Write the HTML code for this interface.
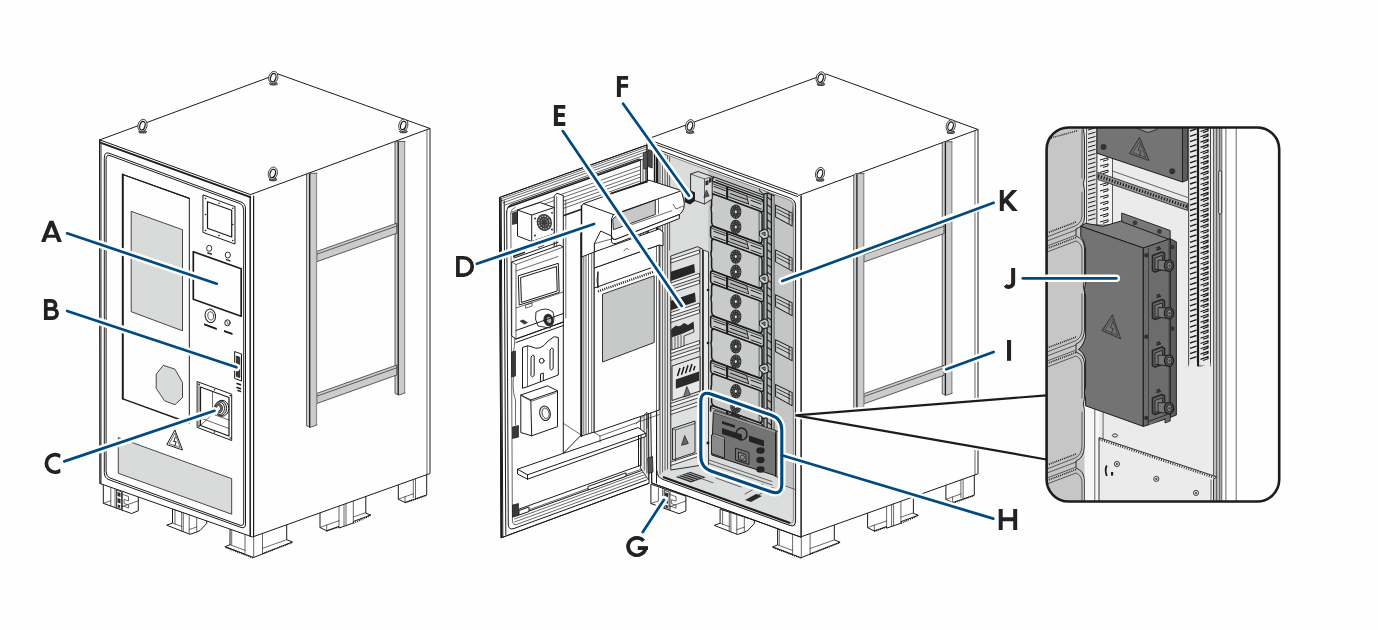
<!DOCTYPE html>
<html>
<head>
<meta charset="utf-8">
<title>Cabinet overview</title>
<style>
html,body{margin:0;padding:0;background:#fefefe;}
body{width:1378px;height:630px;overflow:hidden;font-family:"Liberation Sans",sans-serif;}
svg{display:block;position:absolute;left:0;top:0;}
.l{fill:none;stroke:#1c1c1c;stroke-width:1;stroke-linejoin:round;stroke-linecap:round;}
.t{fill:none;stroke:#2a2a2a;stroke-width:.7;stroke-linejoin:round;stroke-linecap:round;}
.m{fill:none;stroke:#1c1c1c;stroke-width:1.5;stroke-linejoin:round;stroke-linecap:round;}
.k{fill:none;stroke:#1c1c1c;stroke-width:2;stroke-linejoin:round;stroke-linecap:round;}
.w{fill:#fefefe;stroke:#1c1c1c;stroke-width:1;stroke-linejoin:round;}
.g1{fill:#d9dbdb;stroke:#1c1c1c;stroke-width:.8;stroke-linejoin:round;}
.g2{fill:#c6c7c8;stroke:#1c1c1c;stroke-width:.8;stroke-linejoin:round;}
.halo{fill:none;stroke:#fefefe;stroke-width:7.6;stroke-linecap:round;stroke-linejoin:round;}
.b{fill:none;stroke:#004a80;stroke-width:2.7;stroke-linecap:round;stroke-linejoin:round;}
.lab{font-family:"Liberation Sans",sans-serif;font-weight:bold;font-size:29px;fill:#1c1c1c;}
</style>
</head>
<body>
<svg width="1378" height="630" viewBox="0 0 1378 630">
<defs>
<g id="eye">
<ellipse cx="0.2" cy="6.3" rx="4" ry="1.3" fill="#777" stroke="#1c1c1c" stroke-width=".8"/>
<ellipse cx="0" cy="0" rx="4.5" ry="6.3" fill="#f4f4f4" stroke="#2a2a2a" stroke-width=".8" transform="rotate(14)"/>
<ellipse cx="0" cy="0.2" rx="2.6" ry="4.3" fill="#fefefe" stroke="#1c1c1c" stroke-width="1.2" transform="rotate(17)"/>
</g>
<clipPath id="clipC"><rect x="40" y="450" width="20.4" height="28"/></clipPath>
<clipPath id="clipG"><rect x="620" y="530" width="27.4" height="30"/></clipPath>
</defs>

<!-- ================= LEFT CABINET ================= -->
<g id="cabL">
<!-- feet -->
<g id="feetL">
<g class="w">
<path d="M103.3,484 L103.3,503.3 L131.5,513.5 L138.3,510.8 L138.3,496 Z"/>
<path d="M172.5,509 L172.5,523 L166.7,525.2 L190,534.3 L196.7,532 L200,530.5 L206.7,523.5 L206.7,520 Z"/>
<path d="M230,529 L230,544.7 L225,546.7 L253.5,557.5 L292.5,542 L286.7,539.7 L286.7,522 Z"/>
<path d="M320,512 L320,527.5 L326.7,530.8 L339,526.5 L339,528 L353.3,523 L353.3,521.5 L370.8,515 L365.8,513.2 L365.8,494 Z"/>
<path d="M398.3,484 L398.3,499.2 L405,502.5 L426.7,495 L426.7,474 Z"/>
</g>
<g class="t">
<path d="M110.8,487.5 V505.8 M115,489 V507.5 M116.7,489.5 V508 M122.5,491.5 V510.3 M122.5,506.5 L138.3,500.8 M103.3,503.3 L110.8,500.8"/>
<path d="M175,510 V524 M181.7,512.5 V530.8 M183.3,513 V531.5 M189.2,515 V534 M196.7,518 V532 M172.5,523 L181.7,526.5 M189.2,529.5 L196.7,527"/>
<path d="M231.7,529.5 V545 M245,534 V553.3 M253.7,537 V557.5 M262.5,534 V553.5 M230,544.7 L245,550.3 M262.5,548.3 L286.7,539.7 M225,546.7 L245,554.2"/>
<path d="M339,506 V526.5 M344,504.2 V526.3 M346,503.5 V525.6 M353.3,501 V521.5 M320,527.5 L326.7,525 L339,520.7 M353.3,517 L365.8,512.6 M326.7,525 L326.7,530.8"/>
<path d="M413.3,479 V497.5 M415.5,478.3 V498.5 M398.3,499.2 L405,496.7 L413.3,493.8 M405,496.7 L405,502.5"/>
</g>
<path d="M226,547.5 L253.5,558 M262.5,553.7 L292,542.5 M326.7,531 L339,526.7 M353.3,523.2 L370,515.7 M405.5,502.6 L426.5,495.3" stroke="#1c1c1c" stroke-width="1.6" stroke-dasharray="1 1" fill="none"/>
<path d="M116.7,490 L121.5,491.8 L121.5,509.5 L116.7,507.8 Z" fill="#fefefe" stroke="#1c1c1c" stroke-width=".8"/>
<path d="M117.5,492 L120.5,493 L120.5,497 L117.5,496 Z M117.5,498 L120.5,499 L120.5,503.5 L117.5,502.5 Z M117.8,504.5 L120.2,505.3 L120.2,508 L117.8,507.2 Z" fill="#2a2a2a"/>
<path class="t" d="M121.5,494 L128.5,496.5 L128.5,501 L124,499.5 L124,503.5 L128.5,505 L128.5,508 L121.5,505.5"/>
</g>
<!-- body faces -->
<path class="w" d="M99.5,140 L278,74 L430,128.5 L430,473.5 L252.5,537 L100,483.5 Z"/>
<path class="l" d="M250.5,194.6 L430,128.5"/>
<path class="l" d="M99.5,139.8 L250.5,194.6"/>
<path class="k" d="M100.3,142.6 L250.3,197.2" style="stroke-width:1.8"/>
<path class="l" d="M100,140 L100,483.5"/><path class="t" d="M101.4,142 L101.4,484" style="stroke:#555"/>
<path class="m" d="M250.2,196.5 L250.2,536.2"/><path class="l" d="M253.6,196 L253.6,536.6" style="stroke-width:1.2"/>
<path class="t" d="M427,130 L427,474.5"/>

<!-- right face bars -->
<g id="barsL">
<path d="M395,143 L396.5,141.5 L405,141.5 L405,393 L399,395 L395,393.5 Z" fill="#cbcbcb"/>
<path d="M404.6,141.5 L404.6,393" stroke="#8e8e8e" stroke-width="1.2" fill="none"/>
<path class="t" d="M395,143 L395,393.5 L399,395 L405,393 M395,143 L396.5,141.5 L405,141.5"/>
<path class="l" d="M398.2,142.5 L398.2,394.6" style="stroke-width:1.3"/>
<path d="M316.8,251.4 L396.8,223.2 L396.8,233.3 L316.8,261.7 Z" fill="#cbcbcb" stroke="#1c1c1c" stroke-width=".7"/>
<path class="t" d="M316.8,254.2 L396.8,226"/>
<path d="M316.8,393.4 L396.8,365 L396.8,375 L316.8,403.5 Z" fill="#cbcbcb" stroke="#1c1c1c" stroke-width=".7"/>
<path class="t" d="M316.8,396.2 L396.8,367.8"/>
<path d="M306.5,175 L308,173.3 L317,173.3 L317,425 L310.5,427.3 L306.5,425.8 Z" fill="#cbcbcb"/>
<path d="M316.5,173.5 L316.5,425" stroke="#8e8e8e" stroke-width="1.2" fill="none"/>
<path class="t" d="M306.5,175 L306.5,425.8 L310.5,427.3 L317,425 M306.5,175 L308,173.3 L317,173.3"/>
<path class="l" d="M309.7,174.3 L309.7,427" style="stroke-width:1.3"/>
</g>
<!-- front face details -->
<g id="frontL">
<path class="l" d="M104.3,158 Q104.3,151.5 109,153.2 L241,202 Q245.5,203.6 245.5,209 L245.5,524 Q245.5,529 241,527.4 L109,479.7 Q104.3,478 104.3,473 Z"/>
<path class="l" d="M106.1,159 Q106.1,154.2 110,155.6 L240,203.6 Q243.7,205 243.7,210 L243.7,522 Q243.7,526.5 240,525.2 L110,478 Q106.1,476.6 106.1,472 Z"/>
<!-- window frame -->
<path class="l" d="M122.8,174.5 L189.3,198.3 L189.3,423"/>
<path class="k" d="M122.8,174.5 L122.8,398.8"/><path class="l" d="M122.8,398.8 L189.3,423" style="stroke-width:1.4"/>
<path class="l" d="M122.8,174.5 L189.3,198.3" style="stroke-width:1.3"/>
<path class="g1" d="M131.2,211.3 L182.5,229.7 L182.5,330.8 L131.2,311.7 Z"/>
<path class="g1" d="M163.3,365.3 L175,369.2 L182.5,382.5 L182.5,397.5 L175,404.7 L164.5,400.8 L156.2,388.3 L156.2,374.2 Z"/>
<path class="g1" d="M118.3,437.5 L231.7,478.7 L231.7,514.2 L118.3,473.3 Z"/>
<!-- flange -->
<path class="l" d="M203.3,195 L235,206.7 L235,244 L203.3,232.5 Z"/>
<path class="m" d="M207.5,201.7 L231.7,210.3 L231.7,237 L207.5,228.3 Z" style="stroke-width:1.2"/>
<g fill="#1c1c1c"><circle cx="205.5" cy="198.5" r=".8"/><circle cx="219" cy="203.2" r=".8"/><circle cx="232.8" cy="208.3" r=".8"/><circle cx="205.5" cy="214.5" r=".8"/><circle cx="232.8" cy="224.5" r=".8"/><circle cx="205.5" cy="230.5" r=".8"/><circle cx="219" cy="235.6" r=".8"/><circle cx="232.8" cy="240.5" r=".8"/></g>
<!-- key switches -->
<g id="ksw"><ellipse cx="209.2" cy="248.3" rx="2.6" ry="3" fill="#fefefe" stroke="#1c1c1c" stroke-width=".9"/><path d="M207.3,252 L211.8,253.6 L211.8,255 L207.3,253.4 Z" fill="#1c1c1c"/></g>
<use href="#ksw" x="18.6" y="6.7"/>
<!-- display -->
<path class="k" d="M193.3,251.7 L241.2,268.7 L241.2,316.2 L193.3,299.2 Z" style="stroke-width:1.7"/>
<!-- buttons -->
<ellipse cx="210.3" cy="315.8" rx="5.2" ry="6.8" class="l" transform="rotate(-12 210.3 315.8)"/>
<ellipse cx="210.8" cy="315.8" rx="3" ry="4.2" class="t" transform="rotate(-12 210.8 315.8)"/>
<path d="M204,323.3 L216.8,328 L216.8,330 L204,325.3 Z" fill="#1c1c1c"/>
<ellipse cx="227.5" cy="322.8" rx="2.7" ry="3" class="l"/>
<path class="t" d="M226.5,320.5 L228.5,325.2"/>
<path d="M224,330 L232.5,333 L232.5,335 L224,332 Z" fill="#1c1c1c"/>
<!-- handle -->
<path class="l" d="M235,351.7 L241.5,354 L241.5,381 L235,378.6 Z"/>
<path d="M236.3,356 L239.8,357.3 L239.8,377.6 L236.3,376.3 Z" fill="#3a3a3a" stroke="#1c1c1c" stroke-width=".8"/>
<path class="m" d="M237,383.5 L240.5,384.8 M237,387.5 L240.5,388.8 M238,390.5 L240.5,391.4"/>
<!-- connector panel -->
<path class="l" d="M197.5,381.7 L231.7,394.2 L231.7,440.5 L197.5,427.5 Z"/>
<path class="m" d="M200.5,387 L229,397.5 L229,436 L200.5,425.5 Z" style="stroke-width:1.2"/>
<path class="t" d="M199,384 L199,426.5 M212.5,391.5 L212.5,414 M200.5,418 L229,428.5 M212.5,414 L229,420 M200.5,425.5 L212.5,414"/>
<g fill="#1c1c1c"><circle cx="199.2" cy="384.3" r=".8"/><circle cx="214.5" cy="389.8" r=".8"/><circle cx="230.3" cy="395.6" r=".8"/><circle cx="199.2" cy="426" r=".8"/><circle cx="214.5" cy="432" r=".8"/><circle cx="230.3" cy="438" r=".8"/></g>
<g id="conn">
<ellipse cx="222" cy="408.3" rx="6.8" ry="8" fill="#fefefe" stroke="#1c1c1c" stroke-width="1"/>
<ellipse cx="220.7" cy="408.3" rx="6" ry="7.3" fill="#d0d0d0" stroke="#1c1c1c" stroke-width=".9"/>
<ellipse cx="219.5" cy="408.3" rx="5" ry="6.3" fill="#fefefe" stroke="#1c1c1c" stroke-width=".9"/>
<ellipse cx="218.8" cy="408.3" rx="3.6" ry="4.8" fill="#777" stroke="#1c1c1c" stroke-width=".9"/>
<ellipse cx="218.5" cy="408.3" rx="2" ry="2.8" fill="#fefefe" stroke="#1c1c1c" stroke-width=".8"/>
</g>
<!-- warning triangle -->
<path class="l" d="M175,430.3 L182.5,450 L167.2,444.7 Z"/>
<path class="t" d="M175,433.5 L180.2,447.5 L169.5,443.8 Z"/>
<path class="m" d="M175.3,437 L173.8,441.5 L176.2,441.8 L174.8,446" style="stroke-width:1"/>
</g>
<!-- eyebolts -->
<use href="#eye" x="142.5" y="125.5"/><use href="#eye" x="273.3" y="77.5"/><use href="#eye" x="403.3" y="125.3"/><use href="#eye" x="272.8" y="173.3"/>
</g>

<!-- ================= MIDDLE CABINET ================= -->
<g id="cabM">
<!-- feet -->
<use href="#feetL" x="547.6" y="0.2"/>
<!-- body -->
<path class="w" d="M647,140.3 L651.7,137.5 L826,74 L978,129.5 L978,473.8 L800.5,537 L651.7,483 Z"/>
<path class="l" d="M798.5,195.5 L978,129.5"/>
<path class="t" d="M975,131 L975,475"/>
<!-- bars on right face -->
<use href="#barsL" x="547.2" y="0.3"/>
<use href="#eye" x="690" y="125.8"/><use href="#eye" x="820.7" y="78"/><use href="#eye" x="950.7" y="126"/><use href="#eye" x="820" y="173.6"/>
<!-- interior background -->
<path d="M656,150 L795.5,201 L795.5,526.5 L656,476.5 Z" fill="#dadcdc"/>
</g>

<!-- ===== middle cabinet interior ===== -->
<g id="midInt">
<g id="intM" transform="matrix(1,0.3665,0,1,655.6,142.2)">
<rect x="52.5" y="8" width="85" height="326" fill="#c4c6c6"/>
<rect x="1" y="8" width="51.5" height="326" fill="#dadcdc"/>
<path d="M58,13.3 L134,13.3 Q137,13.3 137,16.5 L137,30 L118.8,30 L118.8,18.5 L56,18.5 Z" fill="#bcbebe" stroke="#1c1c1c" stroke-width="1.2"/>
<path d="M60,15.8 L135,15.8 M119,21 L136,21 M119,24.5 L136,24.5" stroke="#1c1c1c" stroke-width=".9" fill="none"/>
<g transform="translate(55,18.3)"><path d="M2.5,0 L51,0 L53,2 L53,11 L51,12.5 L2.5,12.5 Q0,12.5 0,10 L0,2.5 Q0,0 2.5,0 Z" fill="#c5c7c7" stroke="#1c1c1c" stroke-width="1.5"/><path d="M0.5,2.3 L52,2.3" stroke="#1c1c1c" stroke-width=".7"/><path d="M17,2 L36,2 L38,9.5 L17,9.5 Z" fill="#b4b6b6" stroke="#1c1c1c" stroke-width="1"/><path d="M17,0 L17,12.5 M19.5,5.7 L36,5.7 M3,4.5 L15,4.5 M3,9.8 L15,9.8 M40,5 L51,5 M40,9.8 L51,9.8" stroke="#1c1c1c" stroke-width="1" fill="none"/><path d="M16.2,0 L16.2,12.5" stroke="#1c1c1c" stroke-width="1.5"/><path d="M4,12.5 L48,12.5 Q51.5,12.5 51.5,15.5 L51.5,41 Q51.5,44.5 48,44.5 L4.5,44.5 Q1,44.5 1,41 L1,32 Q-0.2,28 1,24 L1,16 Q1,12.5 4,12.5 Z" fill="#c9cbcb" stroke="#1c1c1c" stroke-width="1.5"/><path d="M48.5,13.5 L48.5,43.5" stroke="#1c1c1c" stroke-width=".6"/><g transform="translate(25.2,21.8) skewY(-20.1)"><ellipse rx="5.6" ry="7.2" fill="#2e2e2e"/><ellipse rx="4.1" ry="5.5" fill="none" stroke="#9a9c9c" stroke-width=".9" stroke-dasharray="1.3 1.5"/><ellipse rx="2.4" ry="3.3" fill="none" stroke="#8a8a8a" stroke-width=".8" stroke-dasharray="1 1.2"/><ellipse rx="1.1" ry="1.5" fill="#e0e0e0"/></g><g transform="translate(25.2,37.0) skewY(-20.1)"><ellipse rx="5.6" ry="7.2" fill="#2e2e2e"/><ellipse rx="4.1" ry="5.5" fill="none" stroke="#9a9c9c" stroke-width=".9" stroke-dasharray="1.3 1.5"/><ellipse rx="2.4" ry="3.3" fill="none" stroke="#8a8a8a" stroke-width=".8" stroke-dasharray="1 1.2"/><ellipse rx="1.1" ry="1.5" fill="#e0e0e0"/></g></g>
<g transform="translate(55,63.2)"><path d="M2.5,0 L51,0 L53,2 L53,11 L51,12.5 L2.5,12.5 Q0,12.5 0,10 L0,2.5 Q0,0 2.5,0 Z" fill="#c5c7c7" stroke="#1c1c1c" stroke-width="1.5"/><path d="M0.5,2.3 L52,2.3" stroke="#1c1c1c" stroke-width=".7"/><path d="M17,2 L36,2 L38,9.5 L17,9.5 Z" fill="#b4b6b6" stroke="#1c1c1c" stroke-width="1"/><path d="M17,0 L17,12.5 M19.5,5.7 L36,5.7 M3,4.5 L15,4.5 M3,9.8 L15,9.8 M40,5 L51,5 M40,9.8 L51,9.8" stroke="#1c1c1c" stroke-width="1" fill="none"/><path d="M16.2,0 L16.2,12.5" stroke="#1c1c1c" stroke-width="1.5"/><path d="M4,12.5 L48,12.5 Q51.5,12.5 51.5,15.5 L51.5,41 Q51.5,44.5 48,44.5 L4.5,44.5 Q1,44.5 1,41 L1,32 Q-0.2,28 1,24 L1,16 Q1,12.5 4,12.5 Z" fill="#c9cbcb" stroke="#1c1c1c" stroke-width="1.5"/><path d="M48.5,13.5 L48.5,43.5" stroke="#1c1c1c" stroke-width=".6"/><g transform="translate(25.2,21.8) skewY(-20.1)"><ellipse rx="5.6" ry="7.2" fill="#2e2e2e"/><ellipse rx="4.1" ry="5.5" fill="none" stroke="#9a9c9c" stroke-width=".9" stroke-dasharray="1.3 1.5"/><ellipse rx="2.4" ry="3.3" fill="none" stroke="#8a8a8a" stroke-width=".8" stroke-dasharray="1 1.2"/><ellipse rx="1.1" ry="1.5" fill="#e0e0e0"/></g><g transform="translate(25.2,37.0) skewY(-20.1)"><ellipse rx="5.6" ry="7.2" fill="#2e2e2e"/><ellipse rx="4.1" ry="5.5" fill="none" stroke="#9a9c9c" stroke-width=".9" stroke-dasharray="1.3 1.5"/><ellipse rx="2.4" ry="3.3" fill="none" stroke="#8a8a8a" stroke-width=".8" stroke-dasharray="1 1.2"/><ellipse rx="1.1" ry="1.5" fill="#e0e0e0"/></g></g>
<g transform="translate(55,108.1)"><path d="M2.5,0 L51,0 L53,2 L53,11 L51,12.5 L2.5,12.5 Q0,12.5 0,10 L0,2.5 Q0,0 2.5,0 Z" fill="#c5c7c7" stroke="#1c1c1c" stroke-width="1.5"/><path d="M0.5,2.3 L52,2.3" stroke="#1c1c1c" stroke-width=".7"/><path d="M17,2 L36,2 L38,9.5 L17,9.5 Z" fill="#b4b6b6" stroke="#1c1c1c" stroke-width="1"/><path d="M17,0 L17,12.5 M19.5,5.7 L36,5.7 M3,4.5 L15,4.5 M3,9.8 L15,9.8 M40,5 L51,5 M40,9.8 L51,9.8" stroke="#1c1c1c" stroke-width="1" fill="none"/><path d="M16.2,0 L16.2,12.5" stroke="#1c1c1c" stroke-width="1.5"/><path d="M4,12.5 L48,12.5 Q51.5,12.5 51.5,15.5 L51.5,41 Q51.5,44.5 48,44.5 L4.5,44.5 Q1,44.5 1,41 L1,32 Q-0.2,28 1,24 L1,16 Q1,12.5 4,12.5 Z" fill="#c9cbcb" stroke="#1c1c1c" stroke-width="1.5"/><path d="M48.5,13.5 L48.5,43.5" stroke="#1c1c1c" stroke-width=".6"/><g transform="translate(25.2,21.8) skewY(-20.1)"><ellipse rx="5.6" ry="7.2" fill="#2e2e2e"/><ellipse rx="4.1" ry="5.5" fill="none" stroke="#9a9c9c" stroke-width=".9" stroke-dasharray="1.3 1.5"/><ellipse rx="2.4" ry="3.3" fill="none" stroke="#8a8a8a" stroke-width=".8" stroke-dasharray="1 1.2"/><ellipse rx="1.1" ry="1.5" fill="#e0e0e0"/></g><g transform="translate(25.2,37.0) skewY(-20.1)"><ellipse rx="5.6" ry="7.2" fill="#2e2e2e"/><ellipse rx="4.1" ry="5.5" fill="none" stroke="#9a9c9c" stroke-width=".9" stroke-dasharray="1.3 1.5"/><ellipse rx="2.4" ry="3.3" fill="none" stroke="#8a8a8a" stroke-width=".8" stroke-dasharray="1 1.2"/><ellipse rx="1.1" ry="1.5" fill="#e0e0e0"/></g></g>
<g transform="translate(55,153.0)"><path d="M2.5,0 L51,0 L53,2 L53,11 L51,12.5 L2.5,12.5 Q0,12.5 0,10 L0,2.5 Q0,0 2.5,0 Z" fill="#c5c7c7" stroke="#1c1c1c" stroke-width="1.5"/><path d="M0.5,2.3 L52,2.3" stroke="#1c1c1c" stroke-width=".7"/><path d="M17,2 L36,2 L38,9.5 L17,9.5 Z" fill="#b4b6b6" stroke="#1c1c1c" stroke-width="1"/><path d="M17,0 L17,12.5 M19.5,5.7 L36,5.7 M3,4.5 L15,4.5 M3,9.8 L15,9.8 M40,5 L51,5 M40,9.8 L51,9.8" stroke="#1c1c1c" stroke-width="1" fill="none"/><path d="M16.2,0 L16.2,12.5" stroke="#1c1c1c" stroke-width="1.5"/><path d="M4,12.5 L48,12.5 Q51.5,12.5 51.5,15.5 L51.5,41 Q51.5,44.5 48,44.5 L4.5,44.5 Q1,44.5 1,41 L1,32 Q-0.2,28 1,24 L1,16 Q1,12.5 4,12.5 Z" fill="#c9cbcb" stroke="#1c1c1c" stroke-width="1.5"/><path d="M48.5,13.5 L48.5,43.5" stroke="#1c1c1c" stroke-width=".6"/><g transform="translate(25.2,21.8) skewY(-20.1)"><ellipse rx="5.6" ry="7.2" fill="#2e2e2e"/><ellipse rx="4.1" ry="5.5" fill="none" stroke="#9a9c9c" stroke-width=".9" stroke-dasharray="1.3 1.5"/><ellipse rx="2.4" ry="3.3" fill="none" stroke="#8a8a8a" stroke-width=".8" stroke-dasharray="1 1.2"/><ellipse rx="1.1" ry="1.5" fill="#e0e0e0"/></g><g transform="translate(25.2,37.0) skewY(-20.1)"><ellipse rx="5.6" ry="7.2" fill="#2e2e2e"/><ellipse rx="4.1" ry="5.5" fill="none" stroke="#9a9c9c" stroke-width=".9" stroke-dasharray="1.3 1.5"/><ellipse rx="2.4" ry="3.3" fill="none" stroke="#8a8a8a" stroke-width=".8" stroke-dasharray="1 1.2"/><ellipse rx="1.1" ry="1.5" fill="#e0e0e0"/></g></g>
<g transform="translate(55,197.9)"><path d="M2.5,0 L51,0 L53,2 L53,11 L51,12.5 L2.5,12.5 Q0,12.5 0,10 L0,2.5 Q0,0 2.5,0 Z" fill="#c5c7c7" stroke="#1c1c1c" stroke-width="1.5"/><path d="M0.5,2.3 L52,2.3" stroke="#1c1c1c" stroke-width=".7"/><path d="M17,2 L36,2 L38,9.5 L17,9.5 Z" fill="#b4b6b6" stroke="#1c1c1c" stroke-width="1"/><path d="M17,0 L17,12.5 M19.5,5.7 L36,5.7 M3,4.5 L15,4.5 M3,9.8 L15,9.8 M40,5 L51,5 M40,9.8 L51,9.8" stroke="#1c1c1c" stroke-width="1" fill="none"/><path d="M16.2,0 L16.2,12.5" stroke="#1c1c1c" stroke-width="1.5"/><path d="M4,12.5 L48,12.5 Q51.5,12.5 51.5,15.5 L51.5,41 Q51.5,44.5 48,44.5 L4.5,44.5 Q1,44.5 1,41 L1,32 Q-0.2,28 1,24 L1,16 Q1,12.5 4,12.5 Z" fill="#c9cbcb" stroke="#1c1c1c" stroke-width="1.5"/><path d="M48.5,13.5 L48.5,43.5" stroke="#1c1c1c" stroke-width=".6"/><g transform="translate(25.2,21.8) skewY(-20.1)"><ellipse rx="5.6" ry="7.2" fill="#2e2e2e"/><ellipse rx="4.1" ry="5.5" fill="none" stroke="#9a9c9c" stroke-width=".9" stroke-dasharray="1.3 1.5"/><ellipse rx="2.4" ry="3.3" fill="none" stroke="#8a8a8a" stroke-width=".8" stroke-dasharray="1 1.2"/><ellipse rx="1.1" ry="1.5" fill="#e0e0e0"/></g><g transform="translate(25.2,37.0) skewY(-20.1)"><ellipse rx="5.6" ry="7.2" fill="#2e2e2e"/><ellipse rx="4.1" ry="5.5" fill="none" stroke="#9a9c9c" stroke-width=".9" stroke-dasharray="1.3 1.5"/><ellipse rx="2.4" ry="3.3" fill="none" stroke="#8a8a8a" stroke-width=".8" stroke-dasharray="1 1.2"/><ellipse rx="1.1" ry="1.5" fill="#e0e0e0"/></g></g>
<g transform="translate(55,242.8)"><path d="M2.5,0 L51,0 L53,2 L53,11 L51,12.5 L2.5,12.5 Q0,12.5 0,10 L0,2.5 Q0,0 2.5,0 Z" fill="#c5c7c7" stroke="#1c1c1c" stroke-width="1.5"/><path d="M0.5,2.3 L52,2.3" stroke="#1c1c1c" stroke-width=".7"/><path d="M17,2 L36,2 L38,9.5 L17,9.5 Z" fill="#b4b6b6" stroke="#1c1c1c" stroke-width="1"/><path d="M17,0 L17,12.5 M19.5,5.7 L36,5.7 M3,4.5 L15,4.5 M3,9.8 L15,9.8 M40,5 L51,5 M40,9.8 L51,9.8" stroke="#1c1c1c" stroke-width="1" fill="none"/><path d="M16.2,0 L16.2,12.5" stroke="#1c1c1c" stroke-width="1.5"/><path d="M4,12.5 L48,12.5 Q51.5,12.5 51.5,15.5 L51.5,41 Q51.5,44.5 48,44.5 L4.5,44.5 Q1,44.5 1,41 L1,32 Q-0.2,28 1,24 L1,16 Q1,12.5 4,12.5 Z" fill="#c9cbcb" stroke="#1c1c1c" stroke-width="1.5"/><path d="M48.5,13.5 L48.5,43.5" stroke="#1c1c1c" stroke-width=".6"/><g transform="translate(25.2,21.8) skewY(-20.1)"><ellipse rx="5.6" ry="7.2" fill="#2e2e2e"/><ellipse rx="4.1" ry="5.5" fill="none" stroke="#9a9c9c" stroke-width=".9" stroke-dasharray="1.3 1.5"/><ellipse rx="2.4" ry="3.3" fill="none" stroke="#8a8a8a" stroke-width=".8" stroke-dasharray="1 1.2"/><ellipse rx="1.1" ry="1.5" fill="#e0e0e0"/></g><g transform="translate(25.2,37.0) skewY(-20.1)"><ellipse rx="5.6" ry="7.2" fill="#2e2e2e"/><ellipse rx="4.1" ry="5.5" fill="none" stroke="#9a9c9c" stroke-width=".9" stroke-dasharray="1.3 1.5"/><ellipse rx="2.4" ry="3.3" fill="none" stroke="#8a8a8a" stroke-width=".8" stroke-dasharray="1 1.2"/><ellipse rx="1.1" ry="1.5" fill="#e0e0e0"/></g></g>
<rect x="108.3" y="10" width="10.5" height="322" fill="#b4b6b6" stroke="#1c1c1c" stroke-width="1.2"/>
<path d="M111.5,10 L111.5,332 M115.8,10 L115.8,332" stroke="#1c1c1c" stroke-width="1.3" fill="none"/>
<path d="M111.5,14.0 L115.8,15.5 M111.5,21.5 L115.8,23.0 M111.5,29.0 L115.8,30.5 M111.5,36.5 L115.8,38.0 M111.5,44.0 L115.8,45.5 M111.5,51.5 L115.8,53.0 M111.5,59.0 L115.8,60.5 M111.5,66.5 L115.8,68.0 M111.5,74.0 L115.8,75.5 M111.5,81.5 L115.8,83.0 M111.5,89.0 L115.8,90.5 M111.5,96.5 L115.8,98.0 M111.5,104.0 L115.8,105.5 M111.5,111.5 L115.8,113.0 M111.5,119.0 L115.8,120.5 M111.5,126.5 L115.8,128.0 M111.5,134.0 L115.8,135.5 M111.5,141.5 L115.8,143.0 M111.5,149.0 L115.8,150.5 M111.5,156.5 L115.8,158.0 M111.5,164.0 L115.8,165.5 M111.5,171.5 L115.8,173.0 M111.5,179.0 L115.8,180.5 M111.5,186.5 L115.8,188.0 M111.5,194.0 L115.8,195.5 M111.5,201.5 L115.8,203.0 M111.5,209.0 L115.8,210.5 M111.5,216.5 L115.8,218.0 M111.5,224.0 L115.8,225.5 M111.5,231.5 L115.8,233.0 M111.5,239.0 L115.8,240.5 M111.5,246.5 L115.8,248.0 M111.5,254.0 L115.8,255.5 M111.5,261.5 L115.8,263.0 M111.5,269.0 L115.8,270.5 M111.5,276.5 L115.8,278.0 M111.5,284.0 L115.8,285.5 M111.5,291.5 L115.8,293.0 M111.5,299.0 L115.8,300.5 M111.5,306.5 L115.8,308.0 M111.5,314.0 L115.8,315.5 M111.5,321.5 L115.8,323.0 M111.5,329.0 L115.8,330.5" stroke="#1c1c1c" stroke-width="1.2" fill="none"/>
<path d="M104,6.3 L109.5,1.8 L112.5,3.3 L112.5,9.3 L108,12.3 L104,10.3 Z" fill="#cfd1d1" stroke="#1c1c1c" stroke-width="1"/>
<path d="M106,7.3 L109.5,4.8 L109.5,8.8 Z" fill="#888" stroke="#1c1c1c" stroke-width=".7"/>
<path d="M104,51.2 L109.5,46.7 L112.5,48.2 L112.5,54.2 L108,57.2 L104,55.2 Z" fill="#cfd1d1" stroke="#1c1c1c" stroke-width="1"/>
<path d="M106,52.2 L109.5,49.7 L109.5,53.7 Z" fill="#888" stroke="#1c1c1c" stroke-width=".7"/>
<path d="M104,96.1 L109.5,91.6 L112.5,93.1 L112.5,99.1 L108,102.1 L104,100.1 Z" fill="#cfd1d1" stroke="#1c1c1c" stroke-width="1"/>
<path d="M106,97.1 L109.5,94.6 L109.5,98.6 Z" fill="#888" stroke="#1c1c1c" stroke-width=".7"/>
<path d="M104,141.0 L109.5,136.5 L112.5,138.0 L112.5,144.0 L108,147.0 L104,145.0 Z" fill="#cfd1d1" stroke="#1c1c1c" stroke-width="1"/>
<path d="M106,142.0 L109.5,139.5 L109.5,143.5 Z" fill="#888" stroke="#1c1c1c" stroke-width=".7"/>
<path d="M104,185.9 L109.5,181.4 L112.5,182.9 L112.5,188.9 L108,191.9 L104,189.9 Z" fill="#cfd1d1" stroke="#1c1c1c" stroke-width="1"/>
<path d="M106,186.9 L109.5,184.4 L109.5,188.4 Z" fill="#888" stroke="#1c1c1c" stroke-width=".7"/>
<path d="M104,230.8 L109.5,226.3 L112.5,227.8 L112.5,233.8 L108,236.8 L104,234.8 Z" fill="#cfd1d1" stroke="#1c1c1c" stroke-width="1"/>
<path d="M106,231.8 L109.5,229.3 L109.5,233.3 Z" fill="#888" stroke="#1c1c1c" stroke-width=".7"/>
<rect x="118.8" y="10" width="18.2" height="324" fill="#c4c6c6"/>
<path d="M120,18.8 L136.5,20.8 L136.5,33.8 L120,30.8 Z" fill="#cbcdcd" stroke="#1c1c1c" stroke-width="1"/>
<path d="M121,22.3 L135,24.3 M121,25.8 L135,27.8 M133.5,20.8 L133.5,32.8" stroke="#1c1c1c" stroke-width=".8" fill="none"/>
<path d="M120,63.7 L136.5,65.7 L136.5,78.7 L120,75.7 Z" fill="#cbcdcd" stroke="#1c1c1c" stroke-width="1"/>
<path d="M121,67.2 L135,69.2 M121,70.7 L135,72.7 M133.5,65.7 L133.5,77.7" stroke="#1c1c1c" stroke-width=".8" fill="none"/>
<path d="M120,108.6 L136.5,110.6 L136.5,123.6 L120,120.6 Z" fill="#cbcdcd" stroke="#1c1c1c" stroke-width="1"/>
<path d="M121,112.1 L135,114.1 M121,115.6 L135,117.6 M133.5,110.6 L133.5,122.6" stroke="#1c1c1c" stroke-width=".8" fill="none"/>
<path d="M120,153.5 L136.5,155.5 L136.5,168.5 L120,165.5 Z" fill="#cbcdcd" stroke="#1c1c1c" stroke-width="1"/>
<path d="M121,157.0 L135,159.0 M121,160.5 L135,162.5 M133.5,155.5 L133.5,167.5" stroke="#1c1c1c" stroke-width=".8" fill="none"/>
<path d="M120,198.4 L136.5,200.4 L136.5,213.4 L120,210.4 Z" fill="#cbcdcd" stroke="#1c1c1c" stroke-width="1"/>
<path d="M121,201.9 L135,203.9 M121,205.4 L135,207.4 M133.5,200.4 L133.5,212.4" stroke="#1c1c1c" stroke-width=".8" fill="none"/>
</g>

<!-- floor -->
<path d="M662,470 L703,456 L796,489.5 L796,527 L662,478.5 Z" fill="#dcdede"/>
<path class="t" d="M672,466.5 L703,456 L795,489.5 M716,478 L741,487 M690,474.5 L713,482.8 M745,494 L770,480 M752,498 L778,485"/>
<path d="M675.8,477 L690,471.7 L705.8,477.3 L691,482.5 Z" fill="#2a2a2a"/><path d="M678,476 L692.5,481 M681,474.8 L696,480 M684.5,473.7 L699,478.8 M687.5,472.5 L702.5,477.8" stroke="#dcdede" stroke-width=".7"/>
<path d="M745,500 L756,494 L762,496 L751,502 Z" fill="#2a2a2a"/>
<!-- left side wall column (E) -->
<g id="ecol">
<path d="M657,150 L665,153 L665,470 L657,476 Z" fill="#e4e5e5"/>
<path class="t" d="M660,152 L660,474 M662.5,153 L662.5,472 M665,154 L665,470 M667.5,156 L667.5,469 M669.6,157 L669.6,250"/>
<path d="M657.6,151 L657.6,240 M654.6,150 L654.6,196" stroke="#1c1c1c" stroke-width="1.6" fill="none"/>
<path d="M648.3,149.6 L652.2,151 L652.2,168 L648.3,166.6 Z" fill="#4a4a4a" stroke="#1c1c1c" stroke-width=".8"/>
<path d="M670.8,256 L697.5,246.7 L700.5,248 L702.5,249 L702.5,465 L670.8,470 Z" fill="#dfe0e0" stroke="#1c1c1c" stroke-width=".9"/>
<path class="t" d="M700,248.5 L700,462"/>
<!-- shelves -->
<g fill="#f4f4f4" stroke="#1c1c1c" stroke-width=".8">
<path d="M670.8,259.5 L699.5,249.8 L699.5,253.3 L670.8,263 Z"/>
<path d="M670.8,283 L699.5,273.3 L699.5,277 L670.8,286.5 Z"/>
<path d="M670.8,289.5 L699.5,280 L699.5,283.5 L670.8,293 Z"/>
<path d="M670.8,312.5 L699.5,303 L699.5,306.5 L670.8,316 Z"/>
<path d="M670.8,319 L699.5,309.5 L699.5,313 L670.8,322.5 Z"/>
<path d="M670.8,350 L699.5,340.5 L699.5,344 L670.8,353.5 Z"/>
<path d="M670.8,357 L699.5,347.5 L699.5,351 L670.8,360.5 Z"/>
<path d="M670.8,403.5 L699.5,394 L699.5,397.5 L670.8,407 Z"/>
<path d="M670.8,411 L699.5,401.5 L699.5,405 L670.8,414.5 Z"/>
<path d="M670.8,462 L699.5,452.5 L699.5,456 L670.8,465.5 Z"/>
</g>
<!-- dark terminal blocks -->
<path d="M670.8,271.7 L694.2,264 L695,272.5 L670.8,281 Z" fill="#262626"/>
<path d="M670.8,300.8 L695,292.5 L695.8,301.7 L670.8,310.2 Z" fill="#262626"/>
<!-- contactors -->
<path d="M671.5,330 L680,326 L683,328 L693,323.5 L694,332 L684,336 L684,346 L672,350 Z" fill="#e0e1e1" stroke="#1c1c1c" stroke-width=".8"/>
<path d="M671.5,329 L676,325.5 L679,327 L684,323 L688,325 L693.5,321.5 L694,328.5 L683,333.5 L671.5,337.5 Z" fill="#2a2a2a"/>
<path class="t" d="M675,337 L675,348.5 M678,336 L678,347.5 M681,335 L681,346.5"/>
<!-- label plate -->
<path d="M672,366 L700,356.5 L700,391 L672,400.5 Z" fill="#e6e7e7" stroke="#1c1c1c" stroke-width=".9"/>
<path d="M675.8,379.5 L699,371.5 L699,380.8 L675.8,388.8 Z" fill="#2a2a2a"/>
<path d="M677.5,376 L680,368 M681.5,374.8 L684,366.8 M685.5,373.3 L688,365.3 M689.5,372 L692,364 M693.5,370.5 L695,366" stroke="#1c1c1c" stroke-width="1.5" fill="none"/>
<path d="M686.8,386.5 L690.5,395 L683.5,397 Z" fill="#777" stroke="#1c1c1c" stroke-width=".7"/>
<!-- lower box with warning sign -->
<path d="M672.5,428.5 L695,421 L695,452.5 L672.5,460 Z" fill="#d2d4d4" stroke="#1c1c1c" stroke-width=".9"/>
<path d="M672.5,428.5 L675.5,430 L675.5,461 M675.5,430 L695,423.5" class="t"/>
<path d="M684.7,435.5 L688.3,443.5 L681.5,445.3 Z" fill="#666" stroke="#1c1c1c" stroke-width=".7"/>
<!-- divider between column and modules -->
<path d="M703.5,250 L708.5,252 L708.5,468 L703.5,466 Z" fill="#e6e7e7" stroke="#1c1c1c" stroke-width=".8"/>
<circle cx="708" cy="290" r="1.3" fill="#1c1c1c"/><circle cx="708" cy="343" r="1.3" fill="#1c1c1c"/><circle cx="708" cy="443" r="1.3" fill="#1c1c1c"/>
</g>
<!-- F box -->
<g id="fbox">
<path d="M690.6,174 L698,171.5 L712.2,176.5 L712.2,199 L704.5,204 L690.6,199 Z" fill="#dcdddd" stroke="#1c1c1c" stroke-width=".9"/>
<path class="t" d="M690.6,174 L704.5,179 L712.2,176.5 M704.5,179 L704.5,204"/>
<path d="M705.5,181 L708.5,180 L708.5,184.5 L705.5,185.5 Z M709,178.5 L711.5,177.5 L711.5,182 L709,183 Z" fill="#2a2a2a"/>
<path d="M706.5,190 L709.2,196 L703.8,197.5 Z" fill="#555" stroke="#1c1c1c" stroke-width=".6"/>
<path d="M685,193 L691,190.5 L695,192.5 L695,201 L690,204.5 L684.5,202 Z" fill="#1e1e1e"/>
</g>

<!-- H board -->
<g id="hboard">
<path d="M709,411 L781,433.5 L781,490 L709,464 Z" fill="#d9dbdb"/>
<path d="M713.3,412.5 L773.3,431.7 L775.5,433 L775.5,476.5 L773.3,475 L711.7,455 Z" fill="#747474" stroke="#1c1c1c" stroke-width="1"/>
<path d="M713.3,412.5 L715,410.5 L776,430.5 L775.5,433" fill="#9a9a9a" stroke="#1c1c1c" stroke-width=".8"/>
<path d="M711.5,435 L722,438.5 L724.5,440 L724.5,458 L711.5,453.5 Z" fill="#8a8a8a" stroke="#1c1c1c" stroke-width=".9"/>
<path d="M711.5,435 L714,433.8 L724.5,437.5 L724.5,440" fill="#a5a5a5" stroke="#1c1c1c" stroke-width=".7"/>
<g fill="#242424">
<path d="M722,421 L735,425.3 L735,428 L722,423.7 Z"/>
<path d="M722,428 L742,434.5 L742,440.5 L722,434 Z"/>
<path d="M749,435.5 L764,440.5 L764,446.5 L749,441.5 Z"/>
<ellipse cx="760.5" cy="450.5" rx="4.2" ry="3.3"/><ellipse cx="760.5" cy="460" rx="4.2" ry="3.3"/><ellipse cx="760.5" cy="469.5" rx="4.2" ry="3.3"/>
</g>
<ellipse cx="741.5" cy="434" rx="5.5" ry="6" fill="none" stroke="#242424" stroke-width="1.6"/>
<path d="M735.5,448 L749,452.5 L749,464.5 L735.5,460 Z" fill="none" stroke="#242424" stroke-width="1"/>
<path d="M738.5,452 L746,454.5 L746,462 L738.5,459.5 Z" fill="#8c8c8c" stroke="#242424" stroke-width="1"/>
<circle cx="742.3" cy="457.3" r="2.2" fill="none" stroke="#242424" stroke-width=".8"/>
<path d="M776.5,431 L779.5,432 L779.5,478 L776.5,477 Z" fill="#b5b7b7" stroke="#1c1c1c" stroke-width=".7"/>
<path class="t" d="M709,460 L772,481.5 M709,463.5 L772,485"/>
<circle cx="708" cy="443" r="1.4" fill="#1c1c1c"/>
<path d="M731,412.5 L740,415.5 L740,418.5 L731,415.5 Z" fill="#2a2a2a"/>
</g>

<!-- front frame lines of middle cabinet -->
<g id="frameM">
<path d="M655.6,142.2 L797.5,194.2 L797.5,202.5 L655.6,150.2 Z" fill="#fefefe"/>
<path class="l" d="M655.6,142.2 L797.5,194.2"/>
<path class="l" d="M656,144.6 L797.5,196.5"/>
<path class="l" d="M659,150 L790,198 Q795.6,200 795.6,206 L795.6,520 Q795.6,527.5 790,525.5 L663,479.5 Q657,477.5 657,471"/>
<path class="t" d="M661,152.8 L788.5,199.6 Q793.4,201.4 793.4,207 L793.4,519 Q793.4,524.6 788.5,522.8 L665,478" style="stroke:#666"/>
<path d="M663,477 L790,523" stroke="#1c1c1c" stroke-width="2" fill="none"/>
<path class="m" d="M801.1,196 L801.1,536.8"/>
<path class="l" d="M651.7,483 L800.5,537"/>
<path class="l" d="M651.7,482.5 L651.7,470 M656.5,483 L656.5,150"/>
</g>
</g>
<!-- ===== open door of middle cabinet ===== -->
<g id="door">
<path class="w" d="M499.5,197.5 L646.7,145 L649,483.3 L501.1,537.8 Z"/>
<!-- top band lines -->
<g class="t">
<path d="M500,199.2 L646.7,146.8 M501,201 L646.7,149 M503,202.8 L646.7,151.5 M505,205 L644,155.4"/>
<path d="M512,212 L640,166.3 M515,214.5 L640,170 M556,203.8 L640,174 M563,204.8 L640,177.3 M563,208.5 L640,181"/>
</g>
<path class="m" d="M508.5,207 L641,159.7"/>
<path class="m" d="M564,215.5 L640,188.4"/>
<!-- left edge lines -->
<path class="l" d="M501.2,199 L502.8,536.5 M504.2,201 L505.8,534.5"/>
<path class="l" d="M506.7,212 Q506.7,206 512,204.2 L638,159.3 Q641.3,158.3 641.3,162"/>
<path class="l" d="M506.7,212 L508.3,524 Q508.3,530.5 514,528.5 L646.5,480"/>
<path class="t" d="M510.8,214 Q510.8,209 515,207.5 M510.8,214 L512.4,520 Q512.4,526 517,524.3 L646.5,477"/>
<path class="t" d="M514.5,522 L646.5,474 M514.5,519 L646.5,471 M514.5,515 L646.5,467.3"/>
<path class="l" d="M512.4,517 L646.5,468.8"/>
<path class="l" d="M512.4,511.5 L640,465.5"/>
<path class="w" d="M588,486.5 L626,472.8 L626,476.3 L588,490 Z"/>
<path class="w" d="M519,510.5 L529,507 L529,511.5 L519,515 Z"/>
<!-- hinge side -->
<path d="M640.5,160 L646.7,157.5 L648.5,480 L640.5,468 Z" fill="#e8e9e9" stroke="#1c1c1c" stroke-width=".8"/>
<path class="t" d="M643,160 L644.3,470 M645.5,159 L646.8,473"/>
<path d="M643.3,153 L647,151.5 L647.5,168 L643.8,169 Z" fill="#555" stroke="#1c1c1c" stroke-width=".7"/>
<!-- left hinges/latches -->
<g fill="#3a3a3a" stroke="#1c1c1c" stroke-width=".7">
<path d="M512.5,213 L518,211.5 L518,223 L512.5,224.5 Z"/>
<path d="M512.5,427 L518.5,425.5 L518.5,437 L512.5,438.5 Z"/>
<path d="M512.5,505 L518.5,503.5 L518.5,515.5 L512.5,517 Z"/>
<path d="M511.5,352 L515.5,351 L515.5,376 L511.5,377 Z"/>
</g>
<path class="t" d="M513.5,330 Q516,340 513.5,352 M513.5,377 Q512,390 515.5,400 L515.5,425"/>
<!-- vertical post -->
<path class="w" d="M554.2,196 L557,193.3 L563.3,195.5 L563.3,322 L554.2,325 Z"/>
<path class="t" d="M556.7,196.5 L556.7,324 M565.8,200 L565.8,318"/>
<!-- fan box -->
<path class="w" d="M517.5,210 L540,202.5 L554.2,207.5 L554.2,233.8 L531.7,241.5 L517.5,236 Z"/>
<path class="l" d="M517.5,210 L531.7,215 L554.2,207.5 M531.7,215 L531.7,241.5"/>
<ellipse cx="544.3" cy="222.5" rx="7.6" ry="8.6" fill="#3c3c3c" transform="rotate(-15 544.3 222.5)"/>
<ellipse cx="544.3" cy="222.5" rx="5.6" ry="6.5" fill="none" stroke="#cfcfcf" stroke-width="1.1" stroke-dasharray="1.5 1.2" transform="rotate(-15 544.3 222.5)"/>
<ellipse cx="544.3" cy="222.5" rx="3.2" ry="3.8" fill="none" stroke="#aaa" stroke-width=".9" stroke-dasharray="1.2 1" transform="rotate(-15 544.3 222.5)"/>
<g fill="#1c1c1c"><circle cx="535" cy="218.5" r=".9"/><circle cx="552" cy="212.8" r=".9"/><circle cx="535" cy="235.5" r=".9"/><circle cx="552" cy="229.5" r=".9"/></g>
<!-- display unit -->
<path class="w" d="M511.7,262 L560,245 L563.3,247 L563.3,322 L516,339 L511.7,336 Z"/>
<path class="t" d="M511.7,262 L516,264.5 L563.3,247 M516,264.5 L516,339"/>
<path class="l" d="M514,258 L558,242.3 M514,254.5 L558,239"/>
<path d="M513,253.5 L525,249 L525,253 L513,257.5 Z" fill="#2a2a2a"/>
<path d="M538,246 L544,243.8 L544,245.8 L538,248 Z" fill="#2a2a2a"/>
<path class="w" d="M518.3,275.8 L558.3,263.3 L559.2,292.5 L519.2,305 Z"/>
<path class="l" d="M521,277.5 L556.5,266.5 L557.2,291 L521.8,302.3 Z"/>
<path class="t" d="M516,271 L558,256.5 M516,308 L563.3,292"/>
<path class="t" d="M526,305 L532,303 L532,306 L526,308 Z"/>
<!-- cylinder -->
<path d="M536,312 Q534,319 538,326 L550,328 Q556,322 553,312 Q546,306 536,312 Z" fill="#fefefe" stroke="#1c1c1c" stroke-width=".9"/>
<ellipse cx="548.5" cy="320" rx="5" ry="6.2" fill="#2a2a2a" transform="rotate(-15 548.5 320)"/>
<ellipse cx="549" cy="320" rx="2.2" ry="3" fill="#bbb" transform="rotate(-15 549 320)"/>
<path d="M519.5,321 L523,319.5 L528,322.5 L524.5,324.5 Z" fill="#3a3a3a"/>
<!-- tray -->
<path class="l" d="M516,330.5 L563.3,313.5 M516,339 L563.3,322 M516,342.5 L563.3,325.5"/>
<!-- bracket plate -->
<path class="w" d="M522.5,347.5 L527.5,345.8 L531,346.5 Q540,352 548,341 L554.2,336.7 L558.3,337.5 L558.3,375 L527.5,386.7 L522.5,388.3 Z"/>
<path class="t" d="M527.5,345.8 L527.5,386.7"/>
<path class="l" d="M531.2,357 Q532.7,353.5 534.2,356 L534.2,375 Q532.7,378.5 531.2,376 Z M550.2,350 Q551.7,346.5 553.2,349 L553.2,368 Q551.7,371.5 550.2,369 Z"/>
<circle cx="541.7" cy="360.8" r="2.4" class="l"/>
<path class="l" d="M540.5,381.5 L540.5,374 L543.3,373 L543.3,380.5"/>
<!-- box with hole -->
<path class="w" d="M520.8,395 L547.5,385.8 L557.5,390.8 L557.5,426.7 L531.7,435.8 L520.8,432.5 Z"/>
<path class="l" d="M520.8,395 L530.8,400 L557.5,390.8 M530.8,400 L531.7,435.8"/>
<path class="t" d="M522.5,396.5 L531.5,401.2 L556,392.8"/>
<ellipse cx="545" cy="413.3" rx="5.3" ry="7.3" fill="#e8e8e8" stroke="#1c1c1c" stroke-width="1" transform="rotate(-12 545 413.3)"/>
<ellipse cx="545.6" cy="413.3" rx="3.4" ry="5.2" fill="#fefefe" stroke="#1c1c1c" stroke-width=".7" transform="rotate(-12 545.6 413.3)"/>
<!-- tall panel + gusset -->
<path class="l" d="M563.3,322 L563.3,453.3 L581.3,435"/>
<path class="t" d="M563.3,423.3 L581.3,435"/>
<!-- inverter unit -->
<path class="w" d="M581.3,233 L594.2,238 L594.2,432 L581.3,436 Z"/>
<path class="k" d="M581.3,233 L581.3,436"/>
<path class="t" d="M583.8,234 L583.8,434 M586,235 L586,433.5 M588.5,236 L588.5,433 M591.7,237 L591.7,432.5"/>
<path class="w" d="M594.2,268 L659.2,245 L659.2,410 L594.2,432.5 Z"/>
<path d="M602.5,294.2 L654.2,275.8 L654.2,342.5 L602.5,362 Z" fill="#c7c9c9" stroke="#1c1c1c" stroke-width=".9"/>
<path d="M598,291.4 L655,271.3" stroke="#2a2a2a" stroke-width="2.4" stroke-dasharray="1.1 1.1" fill="none"/>
<path class="l" d="M594.2,288 L659.2,265 M598,272 L598,288 Q596,280 598,272"/>
<path class="t" d="M596,262.5 L659.2,240 M596,255 L659.2,232.5 M656.5,246 L656.5,411"/>
<path class="w" d="M594.2,252 L659.2,229 L663,232 L663,246 L659.2,245 L594.2,268 Z"/>
<path class="t" d="M624,251 Q626,247 628.5,249.3"/>
<!-- shelf -->
<path class="w" d="M517.5,469.2 L638.3,427.5 L645.8,433.3 L645.8,436.5 L527.5,479.2 L517.5,474 Z"/>
<path class="l" d="M517.5,469.2 L527.5,474.8 L645.8,433.3 M527.5,474.8 L527.5,479.2"/>
<path class="t" d="M594.2,432.5 L600,436 L600,442 M600,436 L659.2,414.5 M636,424 L647,412 L647,428"/>
<path class="l" d="M638.5,436 L638.5,466 M641,435 L641,465.5"/>
<!-- right latch -->
<path d="M647.8,458 L652.5,456.5 L653,472 L648.3,473.5 Z" fill="#555" stroke="#1c1c1c" stroke-width=".8"/>
<!-- door outline -->
<path class="l" d="M499.5,197.5 L646.7,145 M499.5,197.5 L501.1,537.8 L649,483.3"/>
<path class="m" d="M500,198.5 L501.6,537"/>
</g>
<!-- ===== D duct ===== -->
<g id="duct">
<path class="w" d="M583.5,203.7 L649,180.2 L681.3,190.5 L684,201 Q685.5,210 679.4,214.5 L616,239.3 Q612,240 611.5,236 L600.7,231 L594.3,243.7 L594.3,252 L581.5,257 L581.5,206 Z"/>
<path d="M616,216.5 L622.3,212 L655.3,199.9 L655.3,214.5 L613.4,229.7 L612.7,219 Z" fill="#c7c9c9" stroke="#1c1c1c" stroke-width=".9"/>
<path class="l" d="M583.5,203.7 L613.4,214.5 L680.7,191 M613.4,214.5 L611.5,218.9 L611.5,236"/>
<path class="t" d="M658.5,199 L658.5,213.5 M631.8,224.6 L671.8,210.7 M673.1,204.3 L676,209 L683.5,206"/>
<path class="w" d="M611.5,236 Q612,240.5 616,239.3 L679.4,214.5 L679.4,218.5 L616,243.5 Q611,244.5 611.5,240 Z"/>
<path class="t" d="M594.3,243.7 L611.5,239"/>
<path d="M610.8,193.5 L647.7,181.4" stroke="#1c1c1c" stroke-width="1.8" fill="none"/>
<path class="m" d="M581.5,206 L581.5,257"/>
</g>
<!-- ===== detail inset ===== -->
<defs><clipPath id="insetClip"><rect x="1046.6" y="127.5" width="232.6" height="374" rx="22" ry="22"/></clipPath></defs>
<g id="callout">
<path d="M795.5,415.3 L1046.5,395.3 M795.5,415.3 L1046.5,459.5" fill="none" stroke="#fefefe" stroke-width="6" stroke-linejoin="round"/>
<path d="M1046.5,395.3 L795.5,415.3 L1046.5,459.5" fill="#fefefe" stroke="#1c1c1c" stroke-width="2.2" stroke-linejoin="miter"/>
</g>
<g id="inset">
<rect x="1046.6" y="127.5" width="232.6" height="374" rx="22" ry="22" fill="#fefefe"/>
<g clip-path="url(#insetClip)">
<rect x="1080" y="120" width="134" height="390" fill="#ebebeb"/>
<rect x="1040" y="120" width="44.5" height="390" fill="#c6c6c6"/>
<path d="M1040,120 L1079,120 Q1084.5,128 1084.5,140 L1084.5,178 Q1082,183 1084.5,190 L1084.5,218 Q1084,226 1076,229 L1076,236 Q1084,239 1084.5,248 L1084.5,280 Q1082,286 1084.5,292 L1084.5,330 Q1084,341 1076,344 L1076,352 Q1084,355 1084.5,364 L1084.5,398 Q1082,404 1084.5,410 L1084.5,446 Q1084,458 1076,461 L1076,468 Q1084,471 1084.5,480 L1084.5,510 L1040,510 Z" fill="#c6c6c6" stroke="#1c1c1c" stroke-width=".9"/>
<path class="t" d="M1082,130 L1082,178 M1082,192 L1082,216 Q1081.5,223 1075,226 L1047,237 M1047,241 L1076,230 M1047,246 L1075,235.5 M1047,252 L1076,241 Q1081.5,243 1082,250 L1082,280 M1082,294 L1082,330 Q1081.5,338 1075,341 L1047,352 M1047,356 L1076,345 M1047,361 L1075,350.5 M1047,367 L1076,356 Q1081.5,358 1082,366 L1082,398 M1082,412 L1082,446 Q1081.5,455 1075,458 L1047,469 M1047,473 L1076,462 M1047,478 L1075,467.5 M1047,484 L1076,473 Q1081.5,475 1082,482 L1082,505"/>
<path d="M1047,233 L1076,222 M1047,248.5 L1076,237.5 M1047,348 L1076,337 M1047,363.5 L1076,352.5 M1047,465 L1076,454 M1047,480.5 L1076,469.5" stroke="#1c1c1c" stroke-width="1.6" stroke-dasharray="1 1" fill="none"/>
<path d="M1049,138.5 L1078,130.5" stroke="#1c1c1c" stroke-width="1.4" stroke-dasharray="1 1" fill="none"/>
<rect x="1086.6" y="125" width="10.4" height="100" fill="#e2e2e2" stroke="#1c1c1c" stroke-width=".7"/>
<path d="M1088,130.0 L1095.5,127.8 M1088,134.3 L1095.5,132.1 M1088,138.6 L1095.5,136.4 M1088,142.9 L1095.5,140.7 M1088,147.2 L1095.5,145.0 M1088,151.5 L1095.5,149.3 M1088,155.8 L1095.5,153.6 M1088,160.1 L1095.5,157.9 M1088,164.4 L1095.5,162.2 M1088,168.7 L1095.5,166.5 M1088,173.0 L1095.5,170.8 M1088,177.3 L1095.5,175.1 M1088,181.6 L1095.5,179.4 M1088,185.9 L1095.5,183.7 M1088,190.2 L1095.5,188.0 M1088,194.5 L1095.5,192.3 M1088,198.8 L1095.5,196.6 M1088,203.1 L1095.5,200.9 M1088,207.4 L1095.5,205.2 M1088,211.7 L1095.5,209.5 M1088,216.0 L1095.5,213.8 M1088,220.3 L1095.5,218.1" stroke="#1c1c1c" stroke-width="1" fill="none"/>
<rect x="1097" y="152" width="15.4" height="73" fill="#f3f3f3" stroke="#1c1c1c" stroke-width=".7"/>
<path d="M1100,160.0 L1108,157.7 L1108,159.7 L1103,161.2 M1100,166.2 L1108,163.9 L1108,165.9 L1103,167.4 M1100,172.4 L1108,170.1 L1108,172.1 L1103,173.6 M1100,178.6 L1108,176.3 L1108,178.3 L1103,179.8 M1100,184.8 L1108,182.5 L1108,184.5 L1103,186.0 M1100,191.0 L1108,188.7 L1108,190.7 L1103,192.2 M1100,197.2 L1108,194.9 L1108,196.9 L1103,198.4 M1100,203.4 L1108,201.1 L1108,203.1 L1103,204.6 M1100,209.6 L1108,207.3 L1108,209.3 L1103,210.8 M1100,215.8 L1108,213.5 L1108,215.5 L1103,217.0 M1100,222.0 L1108,219.7 L1108,221.7 L1103,223.2" stroke="#1c1c1c" stroke-width="1" fill="none"/>
<path d="M1096.9,120 L1182.5,120 L1182.5,182 L1096.9,153.2 Z" fill="#747474" stroke="#1c1c1c" stroke-width="1"/>
<path d="M1182.5,120 L1187.7,120 L1187.7,180 L1182.5,182 Z" fill="#5c5c5c" stroke="#1c1c1c" stroke-width=".9"/>
<path d="M1136,128 L1148,132.5 L1157,129.5 L1157,127.5" fill="#999" stroke="#1c1c1c" stroke-width=".8"/>
<circle cx="1103.5" cy="147" r="3" fill="#333"/><circle cx="1172.2" cy="171.3" r="3" fill="#333"/>
<path d="M1139.5,137.5 L1149,160.5 L1129.5,153.5 Z" fill="none" stroke="#3a3a3a" stroke-width="1.1" stroke-linejoin="round"/>
<path d="M1139.5,141.5 L1146,157.5 L1132.5,152.7 Z" fill="none" stroke="#3a3a3a" stroke-width=".8" stroke-linejoin="round"/>
<path d="M1140.5,144 L1138,150 L1141,150.8 L1139.5,156" fill="none" stroke="#3a3a3a" stroke-width="1"/>
<path d="M1098,172.5 L1187.7,203.5 L1187.7,210.5 L1098,179.5 Z" fill="#9a9a9a" stroke="#1c1c1c" stroke-width=".8"/>
<path d="M1098,176 L1187.7,207" stroke="#1c1c1c" stroke-width="3.2" stroke-dasharray="1.3 1.6" fill="none"/>
<path class="t" d="M1112.4,171 L1187.7,197.5"/>
<rect x="1188.7" y="120" width="21.7" height="246" fill="#e9e9e9" stroke="#1c1c1c" stroke-width=".8"/>
<path d="M1198,120 L1198,366" stroke="#1c1c1c" stroke-width="2.2"/>
<path d="M1188.7,364.5 L1197,361.5 L1197,366.8 L1199,367.5 L1210.4,363 L1210.4,370 L1188.7,370 Z" fill="#ebebeb"/>
<path d="M1190,131.0 L1196.5,128.8 M1190,136.3 L1196.5,134.1 M1190,141.6 L1196.5,139.4 M1190,146.9 L1196.5,144.7 M1190,152.2 L1196.5,150.0 M1190,157.5 L1196.5,155.3 M1190,162.8 L1196.5,160.6 M1190,168.1 L1196.5,165.9 M1190,173.4 L1196.5,171.2 M1190,178.7 L1196.5,176.5 M1190,184.0 L1196.5,181.8 M1190,189.3 L1196.5,187.1 M1190,194.6 L1196.5,192.4 M1190,199.9 L1196.5,197.7 M1190,205.2 L1196.5,203.0 M1190,210.5 L1196.5,208.3 M1190,215.8 L1196.5,213.6 M1190,221.1 L1196.5,218.9 M1190,226.4 L1196.5,224.2 M1190,231.7 L1196.5,229.5 M1190,237.0 L1196.5,234.8 M1190,242.3 L1196.5,240.1 M1190,247.6 L1196.5,245.4 M1190,252.9 L1196.5,250.7 M1190,258.2 L1196.5,256.0 M1190,263.5 L1196.5,261.3 M1190,268.8 L1196.5,266.6 M1190,274.1 L1196.5,271.9 M1190,279.4 L1196.5,277.2 M1190,284.7 L1196.5,282.5 M1190,290.0 L1196.5,287.8 M1190,295.3 L1196.5,293.1 M1190,300.6 L1196.5,298.4 M1190,305.9 L1196.5,303.7 M1190,311.2 L1196.5,309.0 M1190,316.5 L1196.5,314.3 M1190,321.8 L1196.5,319.6 M1190,327.1 L1196.5,324.9 M1190,332.4 L1196.5,330.2 M1190,337.7 L1196.5,335.5 M1190,343.0 L1196.5,340.8 M1190,348.3 L1196.5,346.1 M1190,353.6 L1196.5,351.4 M1190,358.9 L1196.5,356.7" stroke="#1c1c1c" stroke-width="1.4" fill="none"/>
<path d="M1200.5,131.5 L1208,128.8 L1208,130.8 L1203,132.6 M1200.5,136.8 L1208,134.1 L1208,136.1 L1203,137.9 M1200.5,142.1 L1208,139.4 L1208,141.4 L1203,143.2 M1200.5,147.4 L1208,144.7 L1208,146.7 L1203,148.5 M1200.5,152.7 L1208,150.0 L1208,152.0 L1203,153.8 M1200.5,158.0 L1208,155.3 L1208,157.3 L1203,159.1 M1200.5,163.3 L1208,160.6 L1208,162.6 L1203,164.4 M1200.5,168.6 L1208,165.9 L1208,167.9 L1203,169.7 M1200.5,173.9 L1208,171.2 L1208,173.2 L1203,175.0 M1200.5,179.2 L1208,176.5 L1208,178.5 L1203,180.3 M1200.5,184.5 L1208,181.8 L1208,183.8 L1203,185.6 M1200.5,189.8 L1208,187.1 L1208,189.1 L1203,190.9 M1200.5,195.1 L1208,192.4 L1208,194.4 L1203,196.2 M1200.5,200.4 L1208,197.7 L1208,199.7 L1203,201.5 M1200.5,205.7 L1208,203.0 L1208,205.0 L1203,206.8 M1200.5,211.0 L1208,208.3 L1208,210.3 L1203,212.1 M1200.5,216.3 L1208,213.6 L1208,215.6 L1203,217.4 M1200.5,221.6 L1208,218.9 L1208,220.9 L1203,222.7 M1200.5,226.9 L1208,224.2 L1208,226.2 L1203,228.0 M1200.5,232.2 L1208,229.5 L1208,231.5 L1203,233.3 M1200.5,237.5 L1208,234.8 L1208,236.8 L1203,238.6 M1200.5,242.8 L1208,240.1 L1208,242.1 L1203,243.9 M1200.5,248.1 L1208,245.4 L1208,247.4 L1203,249.2 M1200.5,253.4 L1208,250.7 L1208,252.7 L1203,254.5 M1200.5,258.7 L1208,256.0 L1208,258.0 L1203,259.8 M1200.5,264.0 L1208,261.3 L1208,263.3 L1203,265.1 M1200.5,269.3 L1208,266.6 L1208,268.6 L1203,270.4 M1200.5,274.6 L1208,271.9 L1208,273.9 L1203,275.7 M1200.5,279.9 L1208,277.2 L1208,279.2 L1203,281.0 M1200.5,285.2 L1208,282.5 L1208,284.5 L1203,286.3 M1200.5,290.5 L1208,287.8 L1208,289.8 L1203,291.6 M1200.5,295.8 L1208,293.1 L1208,295.1 L1203,296.9 M1200.5,301.1 L1208,298.4 L1208,300.4 L1203,302.2 M1200.5,306.4 L1208,303.7 L1208,305.7 L1203,307.5 M1200.5,311.7 L1208,309.0 L1208,311.0 L1203,312.8 M1200.5,317.0 L1208,314.3 L1208,316.3 L1203,318.1 M1200.5,322.3 L1208,319.6 L1208,321.6 L1203,323.4 M1200.5,327.6 L1208,324.9 L1208,326.9 L1203,328.7 M1200.5,332.9 L1208,330.2 L1208,332.2 L1203,334.0 M1200.5,338.2 L1208,335.5 L1208,337.5 L1203,339.3 M1200.5,343.5 L1208,340.8 L1208,342.8 L1203,344.6 M1200.5,348.8 L1208,346.1 L1208,348.1 L1203,349.9 M1200.5,354.1 L1208,351.4 L1208,353.4 L1203,355.2 M1200.5,359.4 L1208,356.7 L1208,358.7 L1203,360.5" stroke="#1c1c1c" stroke-width="1.2" fill="none"/>
<rect x="1213.5" y="120" width="8.3" height="390" fill="#bcbcbc"/>
<rect x="1221.8" y="120" width="60" height="390" fill="#fefefe"/>
<path class="t" d="M1213.5,120 L1213.5,477 M1216.6,120 L1216.6,510 M1219.7,120 L1219.7,510 M1221.8,120 L1221.8,510 M1225.9,120 L1225.9,510 M1236.2,120 L1236.2,510"/>
<rect x="1218.7" y="170.7" width="3" height="43.3" rx="1.5" fill="#e0e0e0" stroke="#1c1c1c" stroke-width=".8"/>
<rect x="1084.8" y="404" width="14.2" height="106" fill="#f6f6f6"/>
<path class="t" d="M1094.8,408 L1094.8,510 M1103.1,412 L1103.1,440"/>
<path d="M1099,437.6 L1216.6,476.8 L1213.5,479.5 L1213.5,510 L1099,510 Z" fill="#ebebeb" stroke="#1c1c1c" stroke-width=".9"/>
<path d="M1099.5,439.3 L1214,477.6" stroke="#333" stroke-width="2.2" stroke-dasharray="1 1.4" fill="none"/>
<path class="t" d="M1211,480 L1211,510"/>
<circle cx="1116.9" cy="464" r="2.6" fill="#ddd" stroke="#1c1c1c" stroke-width=".8"/><circle cx="1116.9" cy="464" r="1" fill="#333"/>
<circle cx="1156.3" cy="478.9" r="2.6" fill="#ddd" stroke="#1c1c1c" stroke-width=".8"/><circle cx="1156.3" cy="478.9" r="1" fill="#333"/>
<circle cx="1196" cy="492.9" r="2.6" fill="#ddd" stroke="#1c1c1c" stroke-width=".8"/><circle cx="1196" cy="492.9" r="1" fill="#333"/>
<ellipse cx="1115" cy="435.5" rx="2.6" ry="1.6" fill="#ddd" stroke="#1c1c1c" stroke-width=".8"/>
<path d="M1106.8,465.5 Q1104.5,470 1106.8,476" stroke="#1c1c1c" stroke-width="1.8" fill="none"/><rect x="1111" y="472" width="2.2" height="3.6" fill="#1c1c1c"/>
<path d="M1121.7,213 L1170.2,230.5 L1170.2,241 L1121.7,223 Z" fill="#787878" stroke="#1c1c1c" stroke-width=".9"/>
<path d="M1170.2,238.7 L1176.4,241.8 L1176.4,415 L1170.2,417.5 Z" fill="#5e5e5e" stroke="#1c1c1c" stroke-width=".9"/>
<path d="M1080.8,226.3 L1085.6,223.3 L1103,226.3 L1120.6,221.2 L1170.2,239.8 L1143.3,248 Z" fill="#7d7d7d" stroke="#1c1c1c" stroke-width="1"/>
<path d="M1080.8,226.3 L1143.3,248 L1143.3,426.4 L1085.6,405.8 L1085.6,399 Q1083,393 1085.6,386 L1085.6,360 Q1083.5,352 1078.5,349.5 Q1084,345 1085.6,336 L1085.6,296 Q1083,290 1085.6,283 L1085.6,250 Q1084.5,240 1080.8,237 Z" fill="#737373" stroke="#1c1c1c" stroke-width="1"/>
<path d="M1143.3,248 L1170.2,238.7 L1170.2,417.5 L1143.3,426.4 Z" fill="#6c6c6c" stroke="#1c1c1c" stroke-width="1"/>
<path d="M1148.5,248 L1148.5,424 M1169.1,240.5 L1169.1,417" stroke="#3c3c3c" stroke-width=".9" fill="none"/>
<path d="M1148,425.5 L1148,421.5 L1170.2,413.5 L1170.2,421 L1165,423 L1165,418" fill="#6c6c6c" stroke="#1c1c1c" stroke-width=".8"/>
<circle cx="1135" cy="222.8" r="2.4" fill="#3a3a3a"/>
<circle cx="1159.4" cy="231.5" r="2.4" fill="#3a3a3a"/>
<circle cx="1146.4" cy="255.2" r="2.3" fill="#333"/>
<circle cx="1172.2" cy="247" r="2.3" fill="#333"/>
<circle cx="1146.4" cy="336.8" r="2.3" fill="#333"/>
<circle cx="1172.2" cy="328.5" r="2.3" fill="#333"/>
<circle cx="1146.4" cy="418" r="2.3" fill="#333"/>
<circle cx="1172.2" cy="409.5" r="2.3" fill="#333"/>
<g transform="translate(1163,264.5)"><path d="M-10.5,-9 L-1,-12.5 L1.5,-11 L1.5,4 L-8,7.5 L-10.5,6 Z" fill="#666" stroke="#262626" stroke-width="1.6" stroke-linejoin="round"/><path d="M-8,-6.5 L-0.5,-9.2 L-0.5,2.8 L-8,5.5 Z" fill="#7a7a7a" stroke="#262626" stroke-width="1"/><path d="M-5,-4.5 L5,-4 L5,6.5 L-5,5 Z" fill="#777" stroke="#262626" stroke-width="1"/><ellipse cx="6" cy="1.2" rx="4.6" ry="5.6" fill="#5a5a5a" stroke="#222" stroke-width="1.3"/><ellipse cx="6.4" cy="1.2" rx="2.6" ry="3.4" fill="#8a8a8a" stroke="#222" stroke-width="1"/><ellipse cx="6.6" cy="1.2" rx="1.1" ry="1.5" fill="#444"/><path d="M-6.5,-16.5 L-3,-17.5 M-6.5,-14.5 L-2,-16" stroke="#2a2a2a" stroke-width="1.4" fill="none"/></g>
<g transform="translate(1163,312)"><path d="M-10.5,-9 L-1,-12.5 L1.5,-11 L1.5,4 L-8,7.5 L-10.5,6 Z" fill="#666" stroke="#262626" stroke-width="1.6" stroke-linejoin="round"/><path d="M-8,-6.5 L-0.5,-9.2 L-0.5,2.8 L-8,5.5 Z" fill="#7a7a7a" stroke="#262626" stroke-width="1"/><path d="M-5,-4.5 L5,-4 L5,6.5 L-5,5 Z" fill="#777" stroke="#262626" stroke-width="1"/><ellipse cx="6" cy="1.2" rx="4.6" ry="5.6" fill="#5a5a5a" stroke="#222" stroke-width="1.3"/><ellipse cx="6.4" cy="1.2" rx="2.6" ry="3.4" fill="#8a8a8a" stroke="#222" stroke-width="1"/><ellipse cx="6.6" cy="1.2" rx="1.1" ry="1.5" fill="#444"/><path d="M-6.5,-16.5 L-3,-17.5 M-6.5,-14.5 L-2,-16" stroke="#2a2a2a" stroke-width="1.4" fill="none"/></g>
<g transform="translate(1163,359.5)"><path d="M-10.5,-9 L-1,-12.5 L1.5,-11 L1.5,4 L-8,7.5 L-10.5,6 Z" fill="#666" stroke="#262626" stroke-width="1.6" stroke-linejoin="round"/><path d="M-8,-6.5 L-0.5,-9.2 L-0.5,2.8 L-8,5.5 Z" fill="#7a7a7a" stroke="#262626" stroke-width="1"/><path d="M-5,-4.5 L5,-4 L5,6.5 L-5,5 Z" fill="#777" stroke="#262626" stroke-width="1"/><ellipse cx="6" cy="1.2" rx="4.6" ry="5.6" fill="#5a5a5a" stroke="#222" stroke-width="1.3"/><ellipse cx="6.4" cy="1.2" rx="2.6" ry="3.4" fill="#8a8a8a" stroke="#222" stroke-width="1"/><ellipse cx="6.6" cy="1.2" rx="1.1" ry="1.5" fill="#444"/><path d="M-6.5,-16.5 L-3,-17.5 M-6.5,-14.5 L-2,-16" stroke="#2a2a2a" stroke-width="1.4" fill="none"/></g>
<g transform="translate(1163,407)"><path d="M-10.5,-9 L-1,-12.5 L1.5,-11 L1.5,4 L-8,7.5 L-10.5,6 Z" fill="#666" stroke="#262626" stroke-width="1.6" stroke-linejoin="round"/><path d="M-8,-6.5 L-0.5,-9.2 L-0.5,2.8 L-8,5.5 Z" fill="#7a7a7a" stroke="#262626" stroke-width="1"/><path d="M-5,-4.5 L5,-4 L5,6.5 L-5,5 Z" fill="#777" stroke="#262626" stroke-width="1"/><ellipse cx="6" cy="1.2" rx="4.6" ry="5.6" fill="#5a5a5a" stroke="#222" stroke-width="1.3"/><ellipse cx="6.4" cy="1.2" rx="2.6" ry="3.4" fill="#8a8a8a" stroke="#222" stroke-width="1"/><ellipse cx="6.6" cy="1.2" rx="1.1" ry="1.5" fill="#444"/><path d="M-6.5,-16.5 L-3,-17.5 M-6.5,-14.5 L-2,-16" stroke="#2a2a2a" stroke-width="1.4" fill="none"/></g>
<path d="M1112.4,315 L1120.6,338.8 L1102,330.6 Z" fill="none" stroke="#3a3a3a" stroke-width="1.1" stroke-linejoin="round"/>
<path d="M1112.2,319 L1117.8,335.5 L1104.8,329.8 Z" fill="none" stroke="#3a3a3a" stroke-width=".8" stroke-linejoin="round"/>
<path d="M1112.8,322 L1110.3,327.5 L1113,328.5 L1111.5,333.5" fill="none" stroke="#3a3a3a" stroke-width="1"/>
</g>
<rect x="1046.6" y="127.5" width="232.6" height="374" rx="22" ry="22" fill="none" stroke="#1c1c1c" stroke-width="2.6"/>
</g>

<!-- ================= LABELS ================= -->
<g id="leaders">
<g class="halo">
<path d="M700.8,402 Q700.8,390.5 711.5,394.2 L771,415 Q781.8,418.8 781.8,430 L781.8,484 Q781.8,495.5 771,491.8 L711.5,471.2 Q700.8,467.5 700.8,456 Z"/><path d="M781.8,455.3 L980,514.6"/>
<path d="M80,237.6 L216.7,283.7"/><path d="M80,315.1 L236.5,367.3"/><path d="M80,456.1 L214.5,410.8"/>
<path d="M490,259.4 L594,224"/><path d="M566,136 L681.7,306"/><path d="M626,108 L689,195.7"/>
<path d="M663.9,499.8 L650,521"/><path d="M980,206.9 L782.3,281"/><path d="M980,357 L946.3,369.3"/>
<path d="M1047,278.3 L1116.3,278.3"/>
</g>
<g class="b">
<path d="M700.8,402 Q700.8,390.5 711.5,394.2 L771,415 Q781.8,418.8 781.8,430 L781.8,484 Q781.8,495.5 771,491.8 L711.5,471.2 Q700.8,467.5 700.8,456 Z" style="stroke-width:3.1"/><path d="M781.8,455.3 L993.3,518.6"/>
<path d="M67.1,233.3 L216.7,283.7"/><path d="M67.1,311 L236.5,367.3"/><path d="M64.3,461.4 L214.5,410.8"/>
<path d="M476.9,263.8 L594,224"/><path d="M562.8,131.1 L681.7,306"/><path d="M623.1,103.7 L689,195.7"/>
<path d="M663.9,499.8 L642.8,532"/><path d="M993.6,202.8 L782.3,281"/><path d="M993.6,352 L946.3,369.3"/>
<path d="M1022.8,278.3 L1116.3,278.3"/>
</g>
</g>
<g id="letters" fill="#222" stroke="none">
<path fill-rule="evenodd" d="M41,242 L49.4,220.7 L53.5,220.7 L61.9,242 L57.5,242 L55.9,237.8 L47,237.8 L45.4,242 Z M51.45,226.6 L54.7,234.8 L48.2,234.8 Z"/>
<g fill="none" stroke="#222" stroke-width="3.7" stroke-linejoin="miter">
<path d="M45.8,300.85 H51.5 A4.05,4.05 0 0 1 51.5,308.95 H45.8 M51.5,308.95 H52.5 A4.6,4.6 0 0 1 52.5,318.15 H45.8 M45.8,299 V320"/>
<path d="M457.9,257.75 H463.6 A8.65,8.65 0 0 1 463.6,275.05 H457.9 Z"/>
<path d="M1013.15,268.1 V282.6 A4.4,4.4 0 0 1 1005.3,285.3" stroke-width="4"/>
<path d="M643.6,540.9 A8.85,8.65 0 1 0 645.6,548.1" clip-path="url(#clipG)"/>
<path d="M60.9,456.6 A8.85,8.85 0 1 0 60.9,470.2" clip-path="url(#clipC)"/>
</g>
<path d="M637.8,546.1 H648 V550 H637.8 Z"/>
<path d="M553.9,105 H565.3 V108.8 H557.9 V113.1 H564.7 V116.9 H557.9 V122.1 H565.3 V125.9 H553.9 Z"/>
<path d="M616.9,75.9 H628.1 V79.8 H620.9 V83.9 H628.1 V87.8 H620.9 V97 H616.9 Z"/>
<path d="M998.7,509.1 H1002.7 V517.3 H1013.2 V509.1 H1017.2 V530 H1013.2 V521.3 H1002.7 V530 H998.7 Z"/>
<path d="M1007,340 H1011.1 V360.8 H1007 Z"/>
<path d="M999.8,190 H1003.8 V198.9 L1012,190 H1017.4 L1008.2,199.8 L1017.8,210.9 H1012.4 L1005.3,202.8 L1003.8,204.4 V210.9 H999.8 Z"/>
</g>
</svg>
</body>
</html>
